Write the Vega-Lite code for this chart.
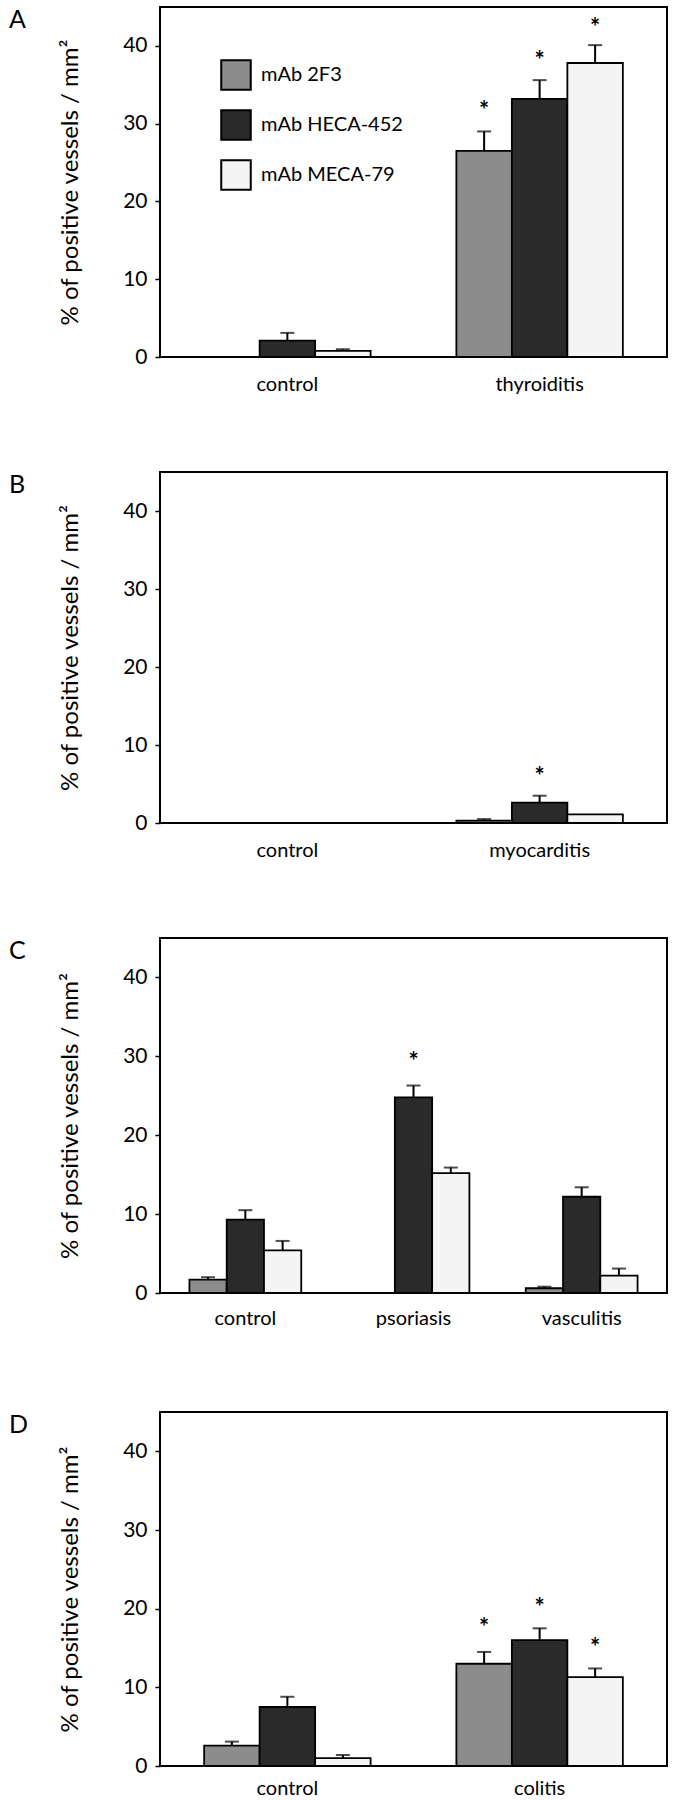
{
  "$schema": "https://vega.github.io/schema/vega-lite/v6.json",
  "padding": {"left": 8, "top": 6, "right": 0, "bottom": 0},
  "background": "white",
  "spacing": 76,
  "resolve": {"scale": {"xOffset": "independent", "x": "independent"}},
  "config": {
    "view": {"stroke": "black", "strokeWidth": 2},
    "font": "Lato",
    "axis": {"labelColor": "black", "titleColor": "black", "labelFont": "Lato", "titleFont": "Lato"}
  },
  "datasets": {
    "bars": [
      {"panel": "A", "group": "control", "series": "mAb 2F3", "value": 0, "err": null, "star": null},
      {"panel": "A", "group": "control", "series": "mAb HECA-452", "value": 2.1, "err": 3.1, "star": null},
      {"panel": "A", "group": "control", "series": "mAb MECA-79", "value": 0.8, "err": 1.0, "star": null},
      {"panel": "A", "group": "thyroiditis", "series": "mAb 2F3", "value": 26.5, "err": 29.0, "star": 32.4},
      {"panel": "A", "group": "thyroiditis", "series": "mAb HECA-452", "value": 33.2, "err": 35.6, "star": 38.8},
      {"panel": "A", "group": "thyroiditis", "series": "mAb MECA-79", "value": 37.8, "err": 40.1, "star": 43.1},
      {"panel": "B", "group": "control", "series": "mAb 2F3", "value": 0, "err": null, "star": null},
      {"panel": "B", "group": "control", "series": "mAb HECA-452", "value": 0, "err": null, "star": null},
      {"panel": "B", "group": "control", "series": "mAb MECA-79", "value": 0, "err": null, "star": null},
      {"panel": "B", "group": "myocarditis", "series": "mAb 2F3", "value": 0.3, "err": 0.5, "star": null},
      {"panel": "B", "group": "myocarditis", "series": "mAb HECA-452", "value": 2.6, "err": 3.5, "star": 6.7},
      {"panel": "B", "group": "myocarditis", "series": "mAb MECA-79", "value": 1.1, "err": null, "star": null},
      {"panel": "C", "group": "control", "series": "mAb 2F3", "value": 1.7, "err": 2.0, "star": null},
      {"panel": "C", "group": "control", "series": "mAb HECA-452", "value": 9.3, "err": 10.5, "star": null},
      {"panel": "C", "group": "control", "series": "mAb MECA-79", "value": 5.4, "err": 6.6, "star": null},
      {"panel": "C", "group": "psoriasis", "series": "mAb 2F3", "value": 0, "err": null, "star": null},
      {"panel": "C", "group": "psoriasis", "series": "mAb HECA-452", "value": 24.8, "err": 26.3, "star": 30.0},
      {"panel": "C", "group": "psoriasis", "series": "mAb MECA-79", "value": 15.2, "err": 15.9, "star": null},
      {"panel": "C", "group": "vasculitis", "series": "mAb 2F3", "value": 0.6, "err": 0.8, "star": null},
      {"panel": "C", "group": "vasculitis", "series": "mAb HECA-452", "value": 12.2, "err": 13.4, "star": null},
      {"panel": "C", "group": "vasculitis", "series": "mAb MECA-79", "value": 2.2, "err": 3.1, "star": null},
      {"panel": "D", "group": "control", "series": "mAb 2F3", "value": 2.6, "err": 3.1, "star": null},
      {"panel": "D", "group": "control", "series": "mAb HECA-452", "value": 7.5, "err": 8.8, "star": null},
      {"panel": "D", "group": "control", "series": "mAb MECA-79", "value": 1.0, "err": 1.4, "star": null},
      {"panel": "D", "group": "colitis", "series": "mAb 2F3", "value": 13.0, "err": 14.5, "star": 18.3},
      {"panel": "D", "group": "colitis", "series": "mAb HECA-452", "value": 16.0, "err": 17.5, "star": 20.9},
      {"panel": "D", "group": "colitis", "series": "mAb MECA-79", "value": 11.3, "err": 12.4, "star": 15.7}
    ]
  },
  "vconcat": [
    {
      "title": {"text": "A", "anchor": "start", "frame": "group", "dx": -151, "dy": 30, "fontSize": 25, "font": "Lato", "fontWeight": "normal", "color": "black"},
      "width": 507, "height": 350,
      "data": {"name": "bars"},
      "transform": [{"filter": "datum.panel == 'A'"}],
      "encoding": {
        "x": {"field": "group", "type": "nominal", "sort": null, "title": null, "scale": {"paddingInner": 0.34, "paddingOuter": 0.175}, "axis": {"ticks": false, "domain": false, "labelAngle": 0, "labelFontSize": 20, "labelPadding": 17}},
        "xOffset": {"field": "series", "type": "nominal", "sort": null, "scale": {"paddingInner": 0, "paddingOuter": 0}}
      },
      "layer": [
        {"mark": {"type": "bar", "stroke": "black", "strokeWidth": 1.8, "opacity": 1},
         "encoding": {
           "y": {"field": "value", "type": "quantitative", "title": "% of positive vessels / mm²", "scale": {"domain": [0, 45], "nice": false}, "axis": {"values": [0, 10, 20, 30, 40], "grid": false, "domain": false, "tickSize": 5, "tickColor": "black", "tickWidth": 1.5, "labelFontSize": 21, "labelPadding": 8, "titleFontSize": 24, "titleFontWeight": "normal", "titlePadding": 40}},
           "color": {"field": "series", "type": "nominal", "sort": null, "scale": {"domain": ["mAb 2F3", "mAb HECA-452", "mAb MECA-79"], "range": ["#8c8c8c", "#2a2a2a", "#f4f4f4"]}, "legend": {"orient": "none", "legendX": 60, "legendY": 52, "title": null, "padding": 0, "symbolType": "square", "symbolSize": 870, "symbolStrokeColor": "black", "symbolStrokeWidth": 2, "symbolOpacity": 1, "labelFontSize": 20, "labelFont": "Lato", "labelColor": "black", "labelOffset": 9, "rowPadding": 12}}
         }},
        {"transform": [{"filter": "isValid(datum.err)"}],
         "mark": {"type": "rule", "color": "black", "strokeWidth": 2},
         "encoding": {"y": {"field": "value", "type": "quantitative", "title": "% of positive vessels / mm²", "scale": {"domain": [0, 45], "nice": false}}, "y2": {"field": "err"}}},
        {"transform": [{"filter": "isValid(datum.err)"}],
         "mark": {"type": "tick", "orient": "horizontal", "color": "black", "size": 14, "thickness": 2},
         "encoding": {"y": {"field": "err", "type": "quantitative", "title": "% of positive vessels / mm²", "scale": {"domain": [0, 45], "nice": false}}}},
        {"transform": [{"filter": "isValid(datum.star)"}],
         "mark": {"type": "text", "text": "*", "fontSize": 24, "font": "Lato", "fontWeight": "bold", "baseline": "middle", "dy": 7, "color": "black"},
         "encoding": {"y": {"field": "star", "type": "quantitative", "title": "% of positive vessels / mm²", "scale": {"domain": [0, 45], "nice": false}}}}
      ]
    },
    {
      "title": {"text": "B", "anchor": "start", "frame": "group", "dx": -151, "dy": 30, "fontSize": 25, "font": "Lato", "fontWeight": "normal", "color": "black"},
      "width": 507, "height": 351,
      "data": {"name": "bars"},
      "transform": [{"filter": "datum.panel == 'B'"}],
      "encoding": {
        "x": {"field": "group", "type": "nominal", "sort": null, "title": null, "scale": {"paddingInner": 0.34, "paddingOuter": 0.175}, "axis": {"ticks": false, "domain": false, "labelAngle": 0, "labelFontSize": 20, "labelPadding": 17}},
        "xOffset": {"field": "series", "type": "nominal", "sort": null, "scale": {"paddingInner": 0, "paddingOuter": 0}}
      },
      "layer": [
        {"mark": {"type": "bar", "stroke": "black", "strokeWidth": 1.8, "opacity": 1},
         "encoding": {
           "y": {"field": "value", "type": "quantitative", "title": "% of positive vessels / mm²", "scale": {"domain": [0, 45], "nice": false}, "axis": {"values": [0, 10, 20, 30, 40], "grid": false, "domain": false, "tickSize": 5, "tickColor": "black", "tickWidth": 1.5, "labelFontSize": 21, "labelPadding": 8, "titleFontSize": 24, "titleFontWeight": "normal", "titlePadding": 40}},
           "color": {"field": "series", "type": "nominal", "sort": null, "scale": {"domain": ["mAb 2F3", "mAb HECA-452", "mAb MECA-79"], "range": ["#8c8c8c", "#2a2a2a", "#f4f4f4"]}, "legend": {"orient": "none", "legendX": 60, "legendY": 52, "title": null, "padding": 0, "symbolType": "square", "symbolSize": 870, "symbolStrokeColor": "black", "symbolStrokeWidth": 2, "symbolOpacity": 1, "labelFontSize": 20, "labelFont": "Lato", "labelColor": "black", "labelOffset": 9, "rowPadding": 12}}
         }},
        {"transform": [{"filter": "isValid(datum.err)"}],
         "mark": {"type": "rule", "color": "black", "strokeWidth": 2},
         "encoding": {"y": {"field": "value", "type": "quantitative", "title": "% of positive vessels / mm²", "scale": {"domain": [0, 45], "nice": false}}, "y2": {"field": "err"}}},
        {"transform": [{"filter": "isValid(datum.err)"}],
         "mark": {"type": "tick", "orient": "horizontal", "color": "black", "size": 14, "thickness": 2},
         "encoding": {"y": {"field": "err", "type": "quantitative", "title": "% of positive vessels / mm²", "scale": {"domain": [0, 45], "nice": false}}}},
        {"transform": [{"filter": "isValid(datum.star)"}],
         "mark": {"type": "text", "text": "*", "fontSize": 24, "font": "Lato", "fontWeight": "bold", "baseline": "middle", "dy": 7, "color": "black"},
         "encoding": {"y": {"field": "star", "type": "quantitative", "title": "% of positive vessels / mm²", "scale": {"domain": [0, 45], "nice": false}}}}
      ]
    },
    {
      "title": {"text": "C", "anchor": "start", "frame": "group", "dx": -151, "dy": 30, "fontSize": 25, "font": "Lato", "fontWeight": "normal", "color": "black"},
      "width": 507, "height": 355,
      "data": {"name": "bars"},
      "transform": [{"filter": "datum.panel == 'C'"}],
      "encoding": {
        "x": {"field": "group", "type": "nominal", "sort": null, "title": null, "scale": {"paddingInner": 0.335, "paddingOuter": 0.175}, "axis": {"ticks": false, "domain": false, "labelAngle": 0, "labelFontSize": 20, "labelPadding": 15, "minExtent": 41}},
        "xOffset": {"field": "series", "type": "nominal", "sort": null, "scale": {"paddingInner": 0, "paddingOuter": 0}}
      },
      "layer": [
        {"mark": {"type": "bar", "stroke": "black", "strokeWidth": 1.8, "opacity": 1},
         "encoding": {
           "y": {"field": "value", "type": "quantitative", "title": "% of positive vessels / mm²", "scale": {"domain": [0, 45], "nice": false}, "axis": {"values": [0, 10, 20, 30, 40], "grid": false, "domain": false, "tickSize": 5, "tickColor": "black", "tickWidth": 1.5, "labelFontSize": 21, "labelPadding": 8, "titleFontSize": 24, "titleFontWeight": "normal", "titlePadding": 40}},
           "color": {"field": "series", "type": "nominal", "sort": null, "scale": {"domain": ["mAb 2F3", "mAb HECA-452", "mAb MECA-79"], "range": ["#8c8c8c", "#2a2a2a", "#f4f4f4"]}, "legend": {"orient": "none", "legendX": 60, "legendY": 52, "title": null, "padding": 0, "symbolType": "square", "symbolSize": 870, "symbolStrokeColor": "black", "symbolStrokeWidth": 2, "symbolOpacity": 1, "labelFontSize": 20, "labelFont": "Lato", "labelColor": "black", "labelOffset": 9, "rowPadding": 12}}
         }},
        {"transform": [{"filter": "isValid(datum.err)"}],
         "mark": {"type": "rule", "color": "black", "strokeWidth": 2},
         "encoding": {"y": {"field": "value", "type": "quantitative", "title": "% of positive vessels / mm²", "scale": {"domain": [0, 45], "nice": false}}, "y2": {"field": "err"}}},
        {"transform": [{"filter": "isValid(datum.err)"}],
         "mark": {"type": "tick", "orient": "horizontal", "color": "black", "size": 14, "thickness": 2},
         "encoding": {"y": {"field": "err", "type": "quantitative", "title": "% of positive vessels / mm²", "scale": {"domain": [0, 45], "nice": false}}}},
        {"transform": [{"filter": "isValid(datum.star)"}],
         "mark": {"type": "text", "text": "*", "fontSize": 24, "font": "Lato", "fontWeight": "bold", "baseline": "middle", "dy": 7, "color": "black"},
         "encoding": {"y": {"field": "star", "type": "quantitative", "title": "% of positive vessels / mm²", "scale": {"domain": [0, 45], "nice": false}}}}
      ]
    },
    {
      "title": {"text": "D", "anchor": "start", "frame": "group", "dx": -151, "dy": 30, "fontSize": 25, "font": "Lato", "fontWeight": "normal", "color": "black"},
      "width": 507, "height": 354,
      "data": {"name": "bars"},
      "transform": [{"filter": "datum.panel == 'D'"}],
      "encoding": {
        "x": {"field": "group", "type": "nominal", "sort": null, "title": null, "scale": {"paddingInner": 0.34, "paddingOuter": 0.175}, "axis": {"ticks": false, "domain": false, "labelAngle": 0, "labelFontSize": 20, "labelPadding": 12}},
        "xOffset": {"field": "series", "type": "nominal", "sort": null, "scale": {"paddingInner": 0, "paddingOuter": 0}}
      },
      "layer": [
        {"mark": {"type": "bar", "stroke": "black", "strokeWidth": 1.8, "opacity": 1},
         "encoding": {
           "y": {"field": "value", "type": "quantitative", "title": "% of positive vessels / mm²", "scale": {"domain": [0, 45], "nice": false}, "axis": {"values": [0, 10, 20, 30, 40], "grid": false, "domain": false, "tickSize": 5, "tickColor": "black", "tickWidth": 1.5, "labelFontSize": 21, "labelPadding": 8, "titleFontSize": 24, "titleFontWeight": "normal", "titlePadding": 40}},
           "color": {"field": "series", "type": "nominal", "sort": null, "scale": {"domain": ["mAb 2F3", "mAb HECA-452", "mAb MECA-79"], "range": ["#8c8c8c", "#2a2a2a", "#f4f4f4"]}, "legend": {"orient": "none", "legendX": 60, "legendY": 52, "title": null, "padding": 0, "symbolType": "square", "symbolSize": 870, "symbolStrokeColor": "black", "symbolStrokeWidth": 2, "symbolOpacity": 1, "labelFontSize": 20, "labelFont": "Lato", "labelColor": "black", "labelOffset": 9, "rowPadding": 12}}
         }},
        {"transform": [{"filter": "isValid(datum.err)"}],
         "mark": {"type": "rule", "color": "black", "strokeWidth": 2},
         "encoding": {"y": {"field": "value", "type": "quantitative", "title": "% of positive vessels / mm²", "scale": {"domain": [0, 45], "nice": false}}, "y2": {"field": "err"}}},
        {"transform": [{"filter": "isValid(datum.err)"}],
         "mark": {"type": "tick", "orient": "horizontal", "color": "black", "size": 14, "thickness": 2},
         "encoding": {"y": {"field": "err", "type": "quantitative", "title": "% of positive vessels / mm²", "scale": {"domain": [0, 45], "nice": false}}}},
        {"transform": [{"filter": "isValid(datum.star)"}],
         "mark": {"type": "text", "text": "*", "fontSize": 24, "font": "Lato", "fontWeight": "bold", "baseline": "middle", "dy": 7, "color": "black"},
         "encoding": {"y": {"field": "star", "type": "quantitative", "title": "% of positive vessels / mm²", "scale": {"domain": [0, 45], "nice": false}}}}
      ]
    }
  ]
}
